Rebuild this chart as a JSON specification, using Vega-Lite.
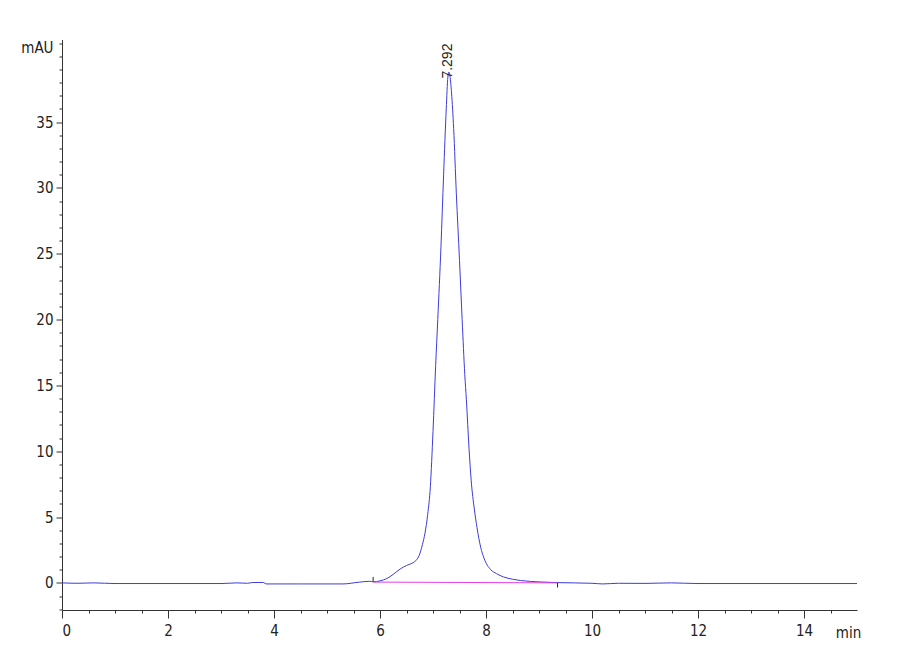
{
  "$schema": "https://vega.github.io/schema/vega-lite/v6.json",
  "width": 795,
  "height": 570.5,
  "autosize": {"type": "none"},
  "padding": {"left": 62, "top": 39.5, "right": 43, "bottom": 50},
  "background": "white",
  "config": {
    "view": {"stroke": null},
    "font": "'Liberation Sans Narrow', 'DejaVu Sans Condensed', 'Liberation Sans', sans-serif",
    "axis": {
      "domainColor": "#333",
      "tickColor": "#333",
      "labelColor": "#222",
      "titleColor": "#222",
      "labelFont": "'Liberation Sans Narrow', 'DejaVu Sans Condensed', 'Liberation Sans', sans-serif",
      "titleFont": "'Liberation Sans Narrow', 'DejaVu Sans Condensed', 'Liberation Sans', sans-serif",
      "labelFontSize": 15,
      "titleFontSize": 15,
      "titleFontWeight": "normal",
      "grid": false
    }
  },
  "datasets": {
    "trace": [
      {"t": 0.0, "mAU": 0.0},
      {"t": 0.3, "mAU": -0.03},
      {"t": 0.6, "mAU": 0.0},
      {"t": 1.0, "mAU": -0.05},
      {"t": 2.0, "mAU": -0.05},
      {"t": 3.0, "mAU": -0.05},
      {"t": 3.3, "mAU": 0.0},
      {"t": 3.5, "mAU": -0.03},
      {"t": 3.6, "mAU": 0.03},
      {"t": 3.8, "mAU": 0.03},
      {"t": 3.85, "mAU": -0.08},
      {"t": 4.5, "mAU": -0.08},
      {"t": 5.3, "mAU": -0.08},
      {"t": 5.6, "mAU": 0.05},
      {"t": 5.8, "mAU": 0.12},
      {"t": 5.87, "mAU": 0.08},
      {"t": 6.0, "mAU": 0.15},
      {"t": 6.13, "mAU": 0.33},
      {"t": 6.25, "mAU": 0.65},
      {"t": 6.38, "mAU": 1.05},
      {"t": 6.5, "mAU": 1.32},
      {"t": 6.57, "mAU": 1.43},
      {"t": 6.65, "mAU": 1.6},
      {"t": 6.7, "mAU": 1.8},
      {"t": 6.75, "mAU": 2.2},
      {"t": 6.8, "mAU": 2.9},
      {"t": 6.85, "mAU": 3.8},
      {"t": 6.9, "mAU": 5.2},
      {"t": 6.95, "mAU": 7.3},
      {"t": 7.0, "mAU": 11.5},
      {"t": 7.05, "mAU": 16.5},
      {"t": 7.09, "mAU": 20.0},
      {"t": 7.15, "mAU": 25.5},
      {"t": 7.2, "mAU": 31.0},
      {"t": 7.25, "mAU": 36.0},
      {"t": 7.28, "mAU": 38.4},
      {"t": 7.3, "mAU": 38.8},
      {"t": 7.32, "mAU": 38.5},
      {"t": 7.35, "mAU": 37.2},
      {"t": 7.39, "mAU": 34.5},
      {"t": 7.44, "mAU": 29.6},
      {"t": 7.5, "mAU": 24.5},
      {"t": 7.55, "mAU": 20.0},
      {"t": 7.6, "mAU": 15.8},
      {"t": 7.63, "mAU": 13.9},
      {"t": 7.68, "mAU": 10.2},
      {"t": 7.72, "mAU": 7.8},
      {"t": 7.78, "mAU": 5.6},
      {"t": 7.83, "mAU": 4.2},
      {"t": 7.9, "mAU": 2.7},
      {"t": 7.96, "mAU": 1.9},
      {"t": 8.09, "mAU": 1.0},
      {"t": 8.2, "mAU": 0.7},
      {"t": 8.33, "mAU": 0.45},
      {"t": 8.5, "mAU": 0.28},
      {"t": 8.65, "mAU": 0.18},
      {"t": 9.03, "mAU": 0.07},
      {"t": 9.35, "mAU": 0.02},
      {"t": 10.0, "mAU": -0.03},
      {"t": 10.2, "mAU": -0.08},
      {"t": 10.5, "mAU": -0.03},
      {"t": 11.0, "mAU": -0.04},
      {"t": 11.5, "mAU": 0.0},
      {"t": 12.0, "mAU": -0.05},
      {"t": 13.0, "mAU": -0.05},
      {"t": 14.0, "mAU": -0.05},
      {"t": 15.0, "mAU": -0.05}
    ],
    "baseline": [
      {"t": 5.87, "mAU": 0.06},
      {"t": 9.35, "mAU": 0.0}
    ],
    "events": [
      {"t": 5.87, "y1": 0.1, "y2": 0.45},
      {"t": 9.35, "y1": 0.0, "y2": -0.35}
    ],
    "peaks": [
      {"t": 7.292, "mAU": 38.3, "label": "7.292"}
    ]
  },
  "resolve": {"axis": {"x": "independent", "y": "independent"}},
  "layer": [
    {
      "data": {"name": "trace"},
      "mark": {"type": "line", "color": "#3c3cdc", "strokeWidth": 1, "interpolate": "monotone"},
      "encoding": {
        "x": {
          "field": "t", "type": "quantitative",
          "scale": {"domain": [0, 15], "nice": false, "zero": false},
          "axis": {
            "orient": "bottom", "values": [0, 2, 4, 6, 8, 10, 12, 14],
            "tickSize": 8, "labelPadding": 5, "title": "min",
            "titleX": 786, "titleY": 22, "titleAlign": "center", "titleBaseline": "middle"
          }
        },
        "y": {
          "field": "mAU", "type": "quantitative",
          "scale": {"domain": [-2.06, 41.27], "nice": false, "zero": false},
          "axis": {
            "orient": "left", "values": [0, 5, 10, 15, 20, 25, 30, 35],
            "tickSize": 6, "labelPadding": 3, "title": "mAU", "titleAngle": 0,
            "titleX": -9, "titleY": 8, "titleAlign": "right", "titleBaseline": "middle"
          }
        }
      }
    },
    {
      "data": {"name": "baseline"},
      "mark": {"type": "line", "color": "#e040e0", "strokeWidth": 1},
      "encoding": {
        "x": {
          "field": "t", "type": "quantitative",
          "axis": {
            "orient": "bottom", "labels": false, "domain": false, "title": null,
            "values": [0.5, 1, 1.5, 2.5, 3, 3.5, 4.5, 5, 5.5, 6.5, 7, 7.5, 8.5, 9, 9.5, 10.5, 11, 11.5, 12.5, 13, 13.5, 14.5],
            "tickSize": 3
          }
        },
        "y": {
          "field": "mAU", "type": "quantitative",
          "axis": {
            "orient": "left", "labels": false, "domain": false, "title": null,
            "values": [-2, -1, 1, 2, 3, 4, 6, 7, 8, 9, 11, 12, 13, 14, 16, 17, 18, 19, 21, 22, 23, 24, 26, 27, 28, 29, 31, 32, 33, 34, 36, 37, 38, 39, 40, 41],
            "tickSize": 3
          }
        }
      }
    },
    {
      "data": {"name": "events"},
      "mark": {"type": "rule", "color": "#222", "strokeWidth": 1},
      "encoding": {
        "x": {"field": "t", "type": "quantitative", "axis": null},
        "y": {"field": "y1", "type": "quantitative", "axis": null},
        "y2": {"field": "y2"}
      }
    },
    {
      "data": {"name": "peaks"},
      "mark": {"type": "text", "angle": 270, "align": "left", "baseline": "middle", "font": "'Liberation Sans', sans-serif", "fontSize": 14, "color": "#222"},
      "encoding": {
        "x": {"field": "t", "type": "quantitative", "axis": null},
        "y": {"field": "mAU", "type": "quantitative", "axis": null},
        "text": {"field": "label"}
      }
    }
  ]
}
